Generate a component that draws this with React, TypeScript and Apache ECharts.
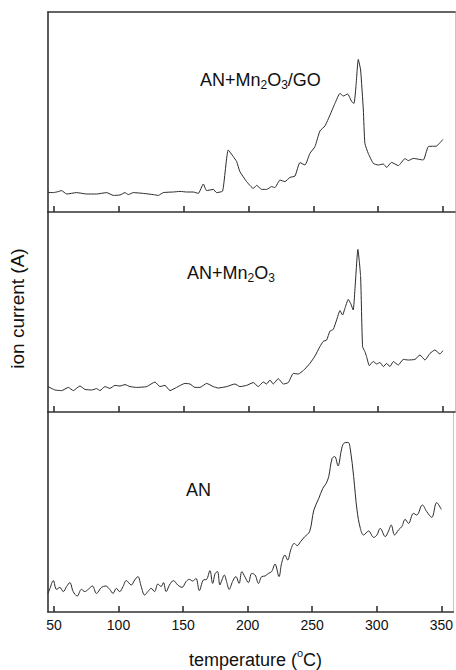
import { useEffect, useRef } from "react";
import * as echarts from "echarts";

// temperature (°C) / ion current (arbitrary units, 0–100 per panel)
const goTemps = [45.4, 49.5, 53.3, 55.9, 59.8, 67.5, 75.2, 82.9, 90.6, 95.8, 100.9, 104.8, 107.3, 111.2, 118.9, 126.6, 130.5, 134.3, 142.0, 147.2, 152.3, 157.4, 161.3, 165.2, 167.7, 172.9, 175.4, 180.1, 184.4, 188.3, 190.9, 193.4, 198.6, 203.7, 206.3, 210.2, 214.0, 217.9, 220.4, 224.3, 228.1, 232.0, 235.9, 239.7, 243.6, 247.4, 251.3, 255.1, 259.0, 262.9, 266.7, 270.6, 273.1, 276.5, 279.6, 281.4, 282.9, 284.7, 286.5, 288.6, 289.8, 292.4, 296.3, 300.1, 304.0, 306.6, 310.4, 315.6, 320.7, 323.3, 327.1, 334.8, 338.7, 345.1, 350.0];
const goValues = [9.8, 9.7, 10.2, 10.7, 9, 9.7, 9, 9, 9.7, 8.3, 8.5, 9.7, 8.7, 9.7, 9.3, 8.7, 8.3, 9.7, 10, 10.3, 10, 10, 9.3, 14, 10.7, 11.3, 9.7, 10.5, 31, 27.7, 25.2, 20.2, 15.2, 11.8, 13.3, 11.3, 11.3, 12.7, 12.2, 16, 15.2, 17.3, 18, 24.7, 23.5, 29.3, 32.7, 40.5, 43, 48.5, 54.3, 59.3, 58, 59, 55.2, 54.3, 62.7, 76.3, 71, 51, 34.3, 29.3, 24.3, 23.5, 24, 22.3, 24.8, 23.2, 26.7, 25.7, 26.8, 26, 32.7, 33, 36.3];

const mnTemps = [45.4, 50.8, 55.9, 61.1, 64.9, 70.0, 73.9, 79.0, 82.9, 85.5, 89.3, 93.2, 97.0, 100.9, 104.8, 108.6, 113.8, 121.5, 127.9, 131.7, 135.6, 139.5, 144.6, 151.0, 154.9, 158.7, 162.6, 167.7, 172.9, 176.7, 183.2, 189.6, 193.4, 198.6, 203.7, 207.6, 211.4, 214.0, 216.6, 219.1, 223.0, 226.9, 230.7, 234.6, 238.4, 242.3, 247.4, 251.3, 255.1, 257.7, 260.3, 262.9, 265.4, 268.0, 270.6, 272.6, 274.4, 277.0, 278.8, 280.8, 282.1, 284.4, 286.5, 288.0, 289.8, 291.1, 293.2, 296.3, 298.8, 301.4, 304.0, 306.6, 309.1, 311.7, 315.6, 319.4, 323.3, 328.4, 332.3, 336.1, 340.0, 343.8, 347.7, 350.0];
const mnValues = [12.7, 11, 10.7, 12.3, 10.7, 13, 11.3, 11, 11.7, 10.7, 12.7, 11.8, 13.3, 13, 13.7, 12.7, 12.3, 12.7, 15, 12.7, 13.3, 10.7, 12.3, 14.3, 14, 12.3, 12.3, 14.3, 12.7, 12, 12.7, 14, 12.7, 13.3, 14.7, 12.7, 15, 14, 16, 14, 16.7, 14, 14.7, 19.3, 19, 20.7, 24.3, 28, 32.7, 35.3, 36, 40.5, 41.3, 46, 50.7, 48.5, 51.8, 56.3, 54.3, 51, 61, 81.3, 67.7, 32.7, 30.2, 27.7, 23.2, 25.3, 24, 24.8, 22.7, 24.3, 22.7, 25.2, 23.5, 26.3, 26, 26.3, 28.5, 26, 29.3, 31, 29, 30.7];

const anTemps = [45.4, 46.9, 49.5, 52.0, 54.6, 57.2, 59.8, 62.3, 64.9, 68.0, 71.3, 73.9, 76.5, 79.8, 82.9, 86.8, 90.1, 93.2, 95.8, 98.3, 100.9, 103.5, 106.0, 109.9, 112.5, 115.0, 117.6, 120.2, 122.7, 125.3, 127.9, 130.5, 133.0, 134.8, 136.9, 139.5, 142.5, 145.9, 149.2, 152.3, 154.9, 157.4, 160.0, 162.6, 165.7, 168.2, 170.8, 172.9, 174.9, 176.7, 178.5, 180.1, 181.9, 183.9, 185.7, 188.3, 190.9, 193.4, 195.5, 198.1, 200.6, 203.2, 205.8, 208.4, 210.9, 213.5, 216.1, 218.6, 221.2, 224.3, 226.3, 228.9, 231.0, 233.5, 236.1, 238.4, 241.0, 244.3, 248.0, 251.3, 255.1, 258.2, 260.8, 262.8, 265.4, 267.5, 270.0, 272.6, 274.4, 277.8, 279.6, 282.1, 284.7, 287.3, 289.8, 293.7, 297.6, 300.1, 302.7, 306.6, 309.1, 311.2, 313.8, 316.8, 319.4, 322.0, 324.6, 328.4, 331.0, 335.3, 338.7, 342.6, 346.4, 350.0];
const anValues = [9.3, 11.8, 15.7, 11.3, 12.3, 10.2, 12.7, 14.7, 10.2, 8, 11.3, 10.2, 11.3, 13, 9.3, 12.3, 13, 11.3, 9.3, 11.8, 10.2, 12.7, 15.7, 13.5, 16, 17.7, 12.7, 8.5, 10.2, 11.8, 10.2, 14, 12.7, 14.7, 10.2, 13.5, 15.7, 13.5, 12.3, 15.2, 16.3, 15.5, 16.8, 10.7, 16, 16.3, 20.7, 14.3, 19.3, 20.2, 13.5, 16, 18.5, 14.7, 11.3, 15.2, 17.7, 14.3, 20.2, 17.3, 14.7, 19.3, 18.5, 14.3, 17.7, 18, 19.3, 20.2, 24, 17.7, 24.3, 28.5, 26, 31.3, 34.3, 33.2, 35.2, 37.7, 40.2, 51, 56.8, 61.8, 64.3, 67.7, 76.8, 77.7, 73, 81, 84.3, 84.8, 81, 67.7, 51, 41.8, 38.5, 40.5, 37.3, 38.5, 41.8, 37.7, 40.5, 43.5, 38.5, 41, 42.7, 46.3, 44.3, 49.3, 48.5, 53.5, 50.2, 47.3, 54.7, 51.3];

const tempTicks = [50, 100, 150, 200, 250, 300, 350];
const panelLabels = ["AN+Mn_2O_3/GO", "AN+Mn_2O_3", "AN"];

const FONT = "'Liberation Sans', Arial, sans-serif";
const AXIS_COLOR = "#333";
const X_MIN = 45.4;
const X_MAX = 359.3;
const GRID_LEFT = 48;
const GRID_WIDTH = 407;
const GRID_TOPS = [12, 212, 412];
const GRID_HEIGHT = 200;
const LABEL_POS = [
  { x: 200, y: 79.7 },
  { x: 187, y: 272.5 },
  { x: 186, y: 489.5 },
];

// "Mn_2O_3" -> rich-text tokens with subscripts
function toRich(label: string): string {
  return label
    .split(/(_\d)/)
    .filter((s) => s.length > 0)
    .map((s) => (s.startsWith("_") ? `{s|${s.slice(1)}}` : `{m|${s}}`))
    .join("");
}

const richStyles = {
  m: { fontSize: 18, fontFamily: FONT, fill: "#111" },
  s: { fontSize: 12, fontFamily: FONT, fill: "#111", padding: [10, 0, 0, 0] },
};

function buildOption() {
  const series = [
    { temps: goTemps, values: goValues },
    { temps: mnTemps, values: mnValues },
    { temps: anTemps, values: anValues },
  ];

  const grid = GRID_TOPS.map((top) => ({
    left: GRID_LEFT,
    width: GRID_WIDTH,
    top,
    height: GRID_HEIGHT,
    containLabel: false,
  }));

  const xAxis: any[] = GRID_TOPS.map((_, i) => ({
    type: "value",
    gridIndex: i,
    min: X_MIN,
    max: X_MAX,
    position: "bottom",
    axisLine: { show: true, onZero: false, lineStyle: { color: AXIS_COLOR, width: 1.6 } },
    axisTick: {
      show: true,
      inside: true,
      length: 6,
      customValues: tempTicks,
      lineStyle: { color: AXIS_COLOR, width: 1.6 },
    },
    axisLabel: {
      show: i === 2,
      customValues: tempTicks,
      fontSize: 14,
      fontFamily: FONT,
      color: "#111",
      margin: 6,
    },
    splitLine: { show: false },
  }));
  // frame line along the top of the upper panel
  xAxis.push({
    type: "value",
    gridIndex: 0,
    min: X_MIN,
    max: X_MAX,
    position: "top",
    axisLine: { show: true, onZero: false, lineStyle: { color: AXIS_COLOR, width: 1.6 } },
    axisTick: { show: false },
    axisLabel: { show: false },
    splitLine: { show: false },
  });

  const yAxis: any[] = [];
  GRID_TOPS.forEach((_, i) => {
    yAxis.push({
      type: "value",
      gridIndex: i,
      min: 0,
      max: 100,
      position: "left",
      axisLine: { show: true, onZero: false, lineStyle: { color: AXIS_COLOR, width: 1.6 } },
      axisTick: { show: false },
      axisLabel: { show: false },
      splitLine: { show: false },
    });
  });
  GRID_TOPS.forEach((_, i) => {
    yAxis.push({
      type: "value",
      gridIndex: i,
      min: 0,
      max: 100,
      position: "right",
      axisLine: { show: true, onZero: false, lineStyle: { color: "#c4c4c4", width: 1 } },
      axisTick: { show: false },
      axisLabel: { show: false },
      splitLine: { show: false },
    });
  });

  const lineSeries = series.map((s, i) => ({
    type: "line",
    xAxisIndex: i,
    yAxisIndex: i,
    data: s.temps.map((t, k) => [t, s.values[k]]),
    showSymbol: false,
    symbol: "none",
    smooth: i === 2 ? 0.35 : 0.15,
    lineStyle: { color: "#2a2a2a", width: 1 },
    silent: true,
  }));

  const labels = panelLabels.map((label, i) => ({
    type: "text",
    x: LABEL_POS[i].x,
    y: LABEL_POS[i].y,
    style: {
      text: toRich(label),
      rich: richStyles,
      align: "left",
      verticalAlign: "middle",
    },
  }));

  return {
    animation: false,
    backgroundColor: "#fff",
    grid,
    xAxis,
    yAxis,
    series: lineSeries,
    graphic: [
      ...labels,
      {
        type: "text",
        x: 255.5,
        y: 660,
        style: {
          text: "{t|temperature (}{o|o}{t|C)}",
          rich: {
            t: { fontSize: 18, fontFamily: FONT, fill: "#111" },
            o: { fontSize: 11, fontFamily: FONT, fill: "#111", padding: [0, 0, 14, 0] },
          },
          align: "center",
          verticalAlign: "middle",
        },
      },
      {
        type: "text",
        x: 17,
        y: 308.5,
        rotation: Math.PI / 2,
        style: {
          text: "ion current (A)",
          fontSize: 19,
          fontFamily: FONT,
          fill: "#111",
          align: "center",
          verticalAlign: "middle",
        },
      },
    ],
  };
}

export default function App() {
  const ref = useRef<HTMLDivElement>(null);

  useEffect(() => {
    if (!ref.current) return;
    const chart = echarts.init(ref.current, null, { renderer: "svg" });
    chart.setOption(buildOption() as any);
    return () => chart.dispose();
  }, []);

  return (
    <div
      ref={ref}
      style={{ position: "absolute", left: 0, top: 0, width: 456, height: 670, background: "#fff" }}
    />
  );
}
